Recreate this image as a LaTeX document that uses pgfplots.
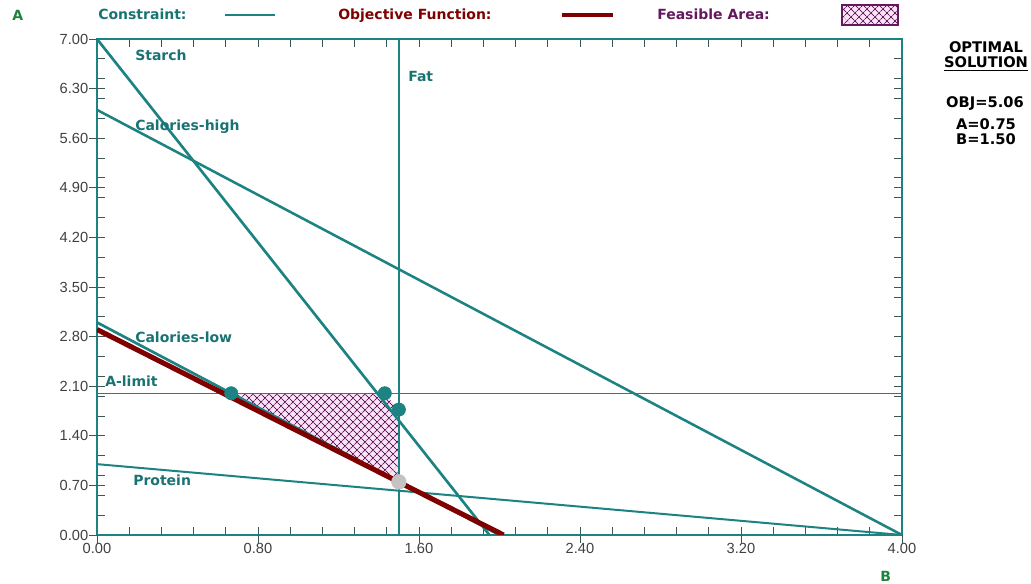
\documentclass[border=0pt]{standalone}
\usepackage{fontspec}
\setmainfont{Liberation Sans}
\newfontfamily\dv{DejaVu Sans}
\usepackage{pgfplots}
\pgfplotsset{compat=1.18}
\usetikzlibrary{patterns,patterns.meta}
\definecolor{teal1}{RGB}{28,130,130}
\definecolor{tealtxt}{RGB}{25,115,115}
\definecolor{maroon1}{RGB}{128,0,0}
\definecolor{purp}{RGB}{100,25,95}
\definecolor{pinkf}{RGB}{250,228,246}
\definecolor{grn}{RGB}{30,130,60}
\definecolor{tickc}{RGB}{60,85,85}
\definecolor{graym}{RGB}{195,195,195}
\newcommand\lbl{\dv\bfseries\fontsize{10.5}{12}\selectfont}
\newcommand\rlbl{\dv\bfseries\fontsize{11}{13}\selectfont}
\tikzset{hatch/.style={fill=pinkf,
  postaction={pattern={Lines[angle=45,distance=4pt,line width=0.7pt]},pattern color=purp},
  postaction={pattern={Lines[angle=-45,distance=4pt,line width=0.7pt]},pattern color=purp}}}
\begin{document}
\begin{tikzpicture}
\useasboundingbox (0,0) rectangle (773.25pt,438pt);
\begin{axis}[at={(72.75pt,36.75pt)}, anchor=south west, scale only axis,
  width=603.75pt, height=372pt,
  xmin=0, xmax=4, ymin=0, ymax=7,
  xtick={0,0.8,1.6,2.4,3.2,4},
  ytick={0,0.7,1.4,2.1,2.8,3.5,4.2,4.9,5.6,6.3,7},
  minor xtick={0.16,0.32,...,3.9},
  minor ytick={0.28,0.56,...,6.8},
  tick align=inside, major tick length=6pt, minor tick length=6pt,
  every tick/.style={tickc, line width=0.6pt},
  axis line style={teal1, line width=1.2pt},
  ticklabel style={font=\fontsize{11}{12}\selectfont, text=black!75},
  xticklabel style={yshift=-3pt},
  yticklabel style={xshift=-3pt},
  /pgf/number format/fixed, /pgf/number format/fixed zerofill,
  /pgf/number format/precision=2, /pgf/number format/assume math mode=true]
% feasible area
\addplot[draw=none, hatch] coordinates {(0.667,2) (1.43,2) (1.5,1.77) (1.5,0.75)} -- cycle;
% constraints
\addplot[teal1, line width=2pt] coordinates {(0,7) (1.95,0)};      % Starch
\addplot[teal1, line width=1.9pt] coordinates {(0,6) (4,0)};       % Calories-high
\addplot[teal1, line width=2pt] coordinates {(1.5,0) (1.5,7)};     % Fat
\addplot[teal1, line width=2pt] coordinates {(0,3) (2,0)};         % Calories-low
\addplot[teal1, line width=1.1pt] coordinates {(0,2) (4,2)};       % A-limit
\addplot[teal1, line width=1.5pt] coordinates {(0,1) (4,0)};       % Protein
\addplot[only marks, mark=*, mark size=5pt, teal1] coordinates {(0.667,2) (1.43,2) (1.5,1.77)};
% objective
\addplot[maroon1, line width=3.8pt] coordinates {(0,2.9) (2.02,0)};
\addplot[only marks, mark=*, mark size=5.5pt, graym] coordinates {(1.5,0.75)};
\end{axis}
\begin{axis}[at={(72.75pt,36.75pt)}, anchor=south west, scale only axis,
  width=603.75pt, height=372pt,
  xmin=0, xmax=4, ymin=0, ymax=7,
  xtick={0,0.8,1.6,2.4,3.2,4},
  ytick={0,0.7,1.4,2.1,2.8,3.5,4.2,4.9,5.6,6.3,7},
  xticklabels={}, yticklabels={},
  tick align=outside, tick pos=left, major tick length=6pt,
  every tick/.style={tickc, line width=0.6pt},
  axis line style={draw=none}]
\addplot[draw=none] coordinates {(0,0)};
\end{axis}
\begin{scope}[shift={(0,438pt)}, x=0.75pt, y=-0.75pt]
\node[anchor=base west, text=grn, font=\lbl, inner sep=0] at (12,21) {A};
\node[anchor=base west, text=grn, font=\lbl, inner sep=0] at (880,582) {B};
\node[anchor=base west, text=tealtxt, font=\lbl, inner sep=0] at (98,20) {Constraint:};
\draw[teal1, line width=0.8pt] (225,15) -- (275,15);
\node[anchor=base west, text=maroon1, font=\lbl, inner sep=0] at (338,20) {Objective Function:};
\draw[maroon1, line width=2.8pt] (562,15) -- (613,15);
\node[anchor=base west, text=purp, font=\lbl, inner sep=0] at (657,20) {Feasible Area:};
\path[hatch, draw=purp, line width=0.8pt] (842,5) rectangle (898,25);
% constraint labels
\node[anchor=base west, text=tealtxt, font=\lbl, inner sep=0] at (135,61) {Starch};
\node[anchor=base west, text=tealtxt, font=\lbl, inner sep=0] at (135,131) {Calories-high};
\node[anchor=base west, text=tealtxt, font=\lbl, inner sep=0] at (408,82) {Fat};
\node[anchor=base west, text=tealtxt, font=\lbl, inner sep=0] at (135,343) {Calories-low};
\node[anchor=base west, text=tealtxt, font=\lbl, inner sep=0] at (105,387) {A-limit};
\node[anchor=base west, text=tealtxt, font=\lbl, inner sep=0] at (133,486) {Protein};
% optimal solution
\node[anchor=base, font=\rlbl, inner sep=0] at (986,53) {OPTIMAL};
\node[anchor=base, font=\rlbl, inner sep=0] at (986,68) {\underline{SOLUTION}};
\node[anchor=base, font=\rlbl, inner sep=0] at (985,108) {OBJ=5.06};
\node[anchor=base, font=\rlbl, inner sep=0] at (986,130) {A=0.75};
\node[anchor=base, font=\rlbl, inner sep=0] at (986,145) {B=1.50};
\end{scope}
\end{tikzpicture}
\end{document}
